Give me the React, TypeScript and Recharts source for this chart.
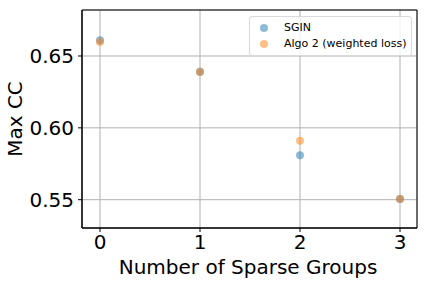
import {
	CartesianGrid,
	Legend,
	ReferenceArea,
	Scatter,
	ScatterChart,
	XAxis,
	YAxis,
} from "recharts";

// Number of sparse groups on the x axis
const groups = [0, 1, 2, 3];
const sginValues = [0.661, 0.639, 0.581, 0.5505];
const algo2Values = [0.6597, 0.6388, 0.591, 0.5505];

const xTicks = [0, 1, 2, 3];
const yTicks = [0.55, 0.6, 0.65];

const xDomain: [number, number] = [-0.18, 3.17];
const yDomain: [number, number] = [0.5303, 0.682];

const seriesStyles = [
	{ name: "SGIN", color: "#1f77b4", data: sginValues },
	{ name: "Algo 2 (weighted loss)", color: "#ff7f0e", data: algo2Values },
];

const font = "DejaVu Sans, sans-serif";

function Dot(props: any) {
	const { cx, cy, fill } = props;
	if (cx == null || cy == null) return null;
	return <circle cx={cx} cy={cy} r={4} fill={fill} fillOpacity={0.5} />;
}

function LegendBox() {
	return (
		<div
			style={{
				border: "1px solid #d9d9d9",
				borderRadius: 3,
				background: "rgba(255,255,255,0.8)",
				padding: "3px 4px 3px 10px",
				fontFamily: font,
				fontSize: 11,
				color: "#000",
				lineHeight: "16px",
			}}
		>
			{seriesStyles.map((s) => (
				<div key={s.name} style={{ display: "flex", alignItems: "center" }}>
					<span
						style={{
							display: "inline-block",
							width: 8,
							height: 8,
							borderRadius: 4,
							background: s.color,
							opacity: 0.5,
							marginRight: 16,
						}}
					/>
					{s.name}
				</div>
			))}
		</div>
	);
}

export default function App() {
	return (
		<div style={{ position: "absolute", left: 0, top: 0, background: "#fff" }}>
			<ScatterChart width={427} height={284} margin={{ top: 10, right: 10, left: 0, bottom: 0 }}>
				<CartesianGrid stroke="#b0b0b0" strokeWidth={1} />
				<XAxis
					type="number"
					dataKey="x"
					domain={xDomain}
					ticks={xTicks}
					allowDataOverflow
					height={56}
					tickSize={4}
					tickMargin={3}
					stroke="#000"
					tick={{ fill: "#000", fontSize: 20, fontFamily: font }}
					label={{
						content: () => (
							<text
								x={248}
								y={267}
								textAnchor="middle"
								dominantBaseline="central"
								fontSize={20}
								fontFamily={font}
								fill="#000"
							>
								Number of Sparse Groups
							</text>
						),
					}}
				/>
				<YAxis
					type="number"
					dataKey="y"
					domain={yDomain}
					ticks={yTicks}
					allowDataOverflow
					width={82}
					tickSize={4}
					tickMargin={4}
					stroke="#000"
					tickFormatter={(v: number) => v.toFixed(2)}
					tick={{ fill: "#000", fontSize: 20, fontFamily: font }}
					label={{
						content: () => (
							<text
								x={15}
								y={119}
								transform="rotate(-90 15 119)"
								textAnchor="middle"
								dominantBaseline="central"
								fontSize={20}
								fontFamily={font}
								fill="#000"
							>
								Max CC
							</text>
						),
					}}
				/>
				<ReferenceArea
					x1={xDomain[0]}
					x2={xDomain[1]}
					y1={yDomain[0]}
					y2={yDomain[1]}
					fill="none"
					stroke="#000"
					strokeWidth={1}
					ifOverflow="visible"
				/>
				{seriesStyles.map((s) => (
					<Scatter
						key={s.name}
						name={s.name}
						data={groups.map((g, i) => ({ x: g, y: s.data[i] }))}
						fill={s.color}
						shape={<Dot />}
						isAnimationActive={false}
					/>
				))}
				<Legend
					layout="horizontal"
					verticalAlign="middle"
					align="center"
					content={() => <LegendBox />}
					wrapperStyle={{ top: 16, left: 249, width: 163 }}
				/>
			</ScatterChart>
		</div>
	);
}
